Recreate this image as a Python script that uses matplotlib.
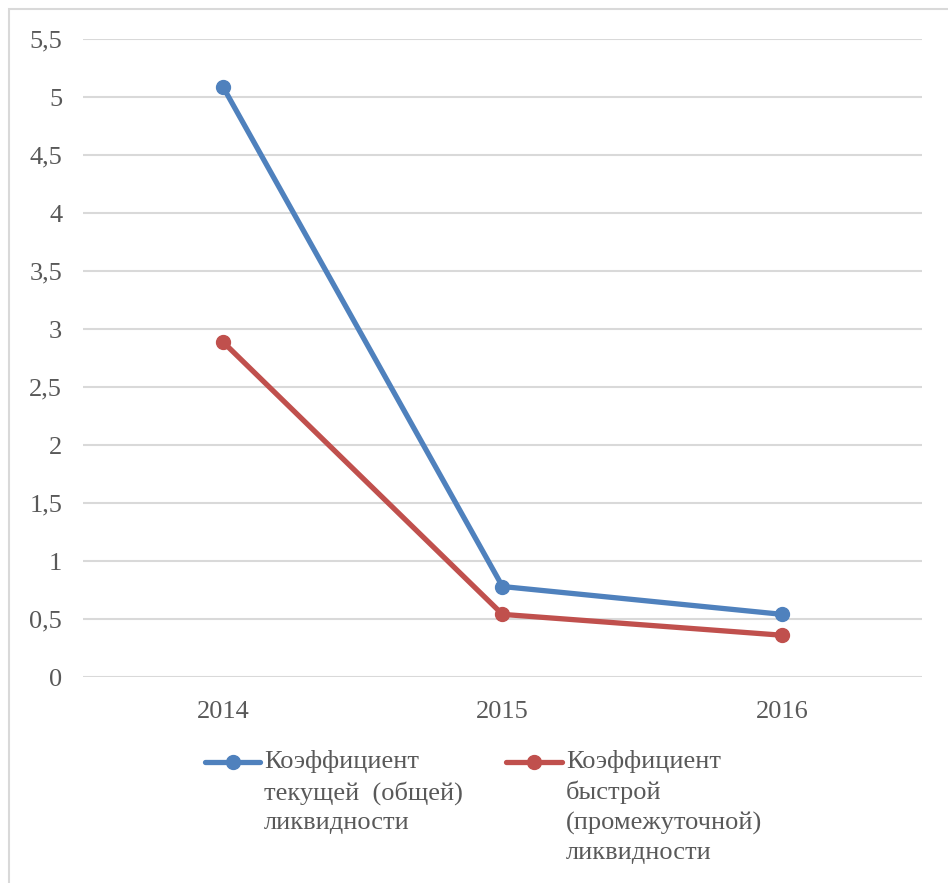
import matplotlib
matplotlib.use("Agg")
import matplotlib.pyplot as plt
from matplotlib.lines import Line2D
from matplotlib.patches import Rectangle
from matplotlib.ticker import FuncFormatter

years = ["2014", "2015", "2016"]
current_ratio = [5.09, 0.78, 0.54]
quick_ratio = [2.89, 0.54, 0.36]
labels = ["Коэффициент\nтекущей  (общей)\nликвидности",
          "Коэффициент\nбыстрой\n(промежуточной)\nликвидности"]
colors = ["#4F81BD", "#C0504D"]
yticks = [0, 0.5, 1, 1.5, 2, 2.5, 3, 3.5, 4, 4.5, 5, 5.5]

W, H = 948, 883
fig = plt.figure(figsize=(W / 100, H / 100), dpi=100)
plt.rcParams['font.family'] = ['Liberation Serif', 'DejaVu Serif']
txtc = "#595959"
fs = 19

# outer chart frame
fig.patches.append(Rectangle((9 / W, -0.01), 1.02, 1 - 9 / H + 0.01, transform=fig.transFigure,
                             fill=False, edgecolor="#d9d9d9", linewidth=1.5))

ax = fig.add_axes([83 / W, 1 - 677 / H, (922 - 83) / W, (677 - 39) / H])
x = list(range(len(years)))
for vals, c in zip([current_ratio, quick_ratio], colors):
    ax.plot(x, vals, color=c, linewidth=3.8, marker="o", markersize=10, zorder=3,
            solid_capstyle="round")

ax.set_xlim(-0.5, len(years) - 0.5)
ax.set_ylim(0, 5.5)
ax.set_yticks(yticks)
ax.yaxis.set_major_formatter(FuncFormatter(lambda v, p: ("%g" % v).replace(".", ",")))
ax.set_xticks(x)
ax.set_xticklabels(years)
ax.grid(axis="y", color="#d9d9d9", linewidth=1.5)
ax.set_axisbelow(True)
for s in ax.spines.values():
    s.set_visible(False)
ax.tick_params(axis="both", length=0, labelsize=fs, labelcolor=txtc)
ax.tick_params(axis="y", pad=15)
ax.tick_params(axis="x", pad=17)

# legend drawn manually
leg_pos = [(205, 260, 264), (506, 562, 566)]
for (x0, x1, tx), c, lab in zip(leg_pos, colors, labels):
    yy = 1 - 762 / H
    fig.add_artist(Line2D([x0 / W, x1 / W], [yy, yy], transform=fig.transFigure,
                          color=c, linewidth=3.8, solid_capstyle="round"))
    fig.add_artist(Line2D([(x0 + x1) / 2 / W], [yy], transform=fig.transFigure,
                          color=c, marker="o", markersize=10, linestyle="none"))
    fig.text(tx / W, 1 - 750 / H, lab, ha="left", va="top", fontsize=fs,
             color=txtc, linespacing=1.42)

fig.savefig("out.png", dpi=100, facecolor="white")
